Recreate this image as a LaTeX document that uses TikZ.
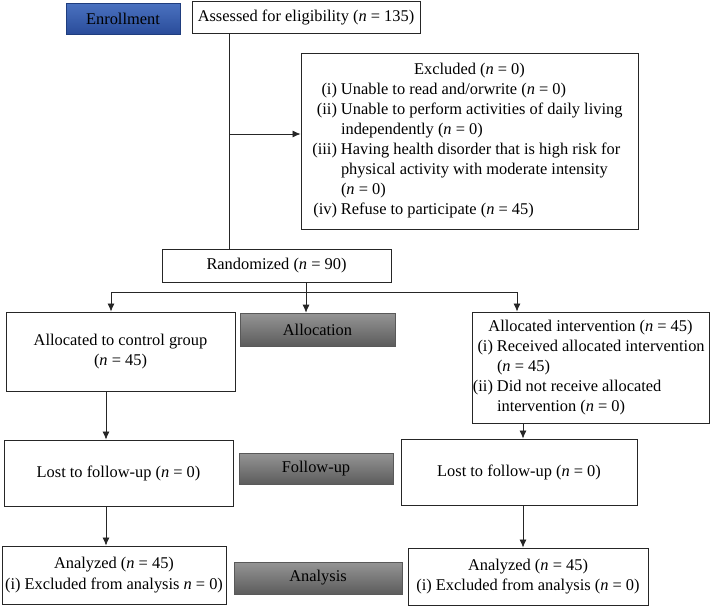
\documentclass[tikz,border=0pt]{standalone}
\usepackage{fontspec}
\setmainfont{Liberation Serif}
\usetikzlibrary{arrows.meta}
\newcommand\nn{\textit{n}}
\newcommand\litem[3]{\par\noindent\hangindent=#1\hangafter=1\makebox[#1][r]{#2\hspace{4pt}}#3}
\newcommand\boxtext[2]{\begin{minipage}{#1}\raggedright #2\par\end{minipage}}
\definecolor{enrtop}{HTML}{4A72C0}
\definecolor{enrbot}{HTML}{2A4C9A}
\definecolor{enredge}{HTML}{1F3D7E}
\definecolor{gtop}{HTML}{959595}
\definecolor{gbot}{HTML}{5C5C5C}
\begin{document}
\begin{tikzpicture}[x=1pt,y=-1pt,
  box/.style={draw=black!85, line width=0.9pt, inner sep=0pt, align=center,
    font=\fontsize{16.4}{20.5}\selectfont},
  listbox/.style={draw=black!85, line width=0.9pt, inner sep=0pt,
    font=\fontsize{16.4}{20}\selectfont},
  stage/.style={draw=gray!70!black, line width=0.6pt, inner sep=0pt, align=center,
    top color=gtop, bottom color=gbot, font=\fontsize{16.4}{20}\selectfont},
  line/.style={draw=black!85, line width=0.8pt},
  arr/.style={line, -{Latex[length=8pt,width=7pt]}}]
\useasboundingbox (0,0) rectangle (711,608);

\node[box, draw=enredge, top color=enrtop, bottom color=enrbot,
  minimum width=114pt, minimum height=31pt] (enroll) at (123,18.5) {Enrollment};
\node[box, minimum width=228pt, minimum height=32pt] (assess) at (306,17)
  {Assessed for eligibility (\nn{} = 135)};

\node[listbox, minimum width=337pt, minimum height=176pt] (excl) at (469.5,141)
  {\boxtext{317pt}{\makebox[\linewidth]{Excluded (\nn{} = 0)}
   \litem{30pt}{(i)}{Unable to read and/orwrite (\nn{} = 0)}
   \litem{30pt}{(ii)}{Unable to perform activities of daily living\newline independently (\nn{} = 0)}
   \litem{30pt}{(iii)}{Having health disorder that is high risk for\newline physical activity with moderate intensity\newline (\nn{} = 0)}
   \litem{30pt}{(iv)}{Refuse to participate (\nn{} = 45)}}};

\node[box, minimum width=229pt, minimum height=33pt] (rand) at (276.5,265.5)
  {Randomized (\nn{} = 90)};

\node[box, minimum width=229pt, minimum height=79pt] (ctrl) at (120.5,351.5)
  {Allocated to control group\\(\nn{} = 45)};
\node[stage, minimum width=155pt, minimum height=33pt] (alloc) at (317.5,329.5) {Allocation};
\node[listbox, minimum width=237pt, minimum height=111pt] (intv) at (590.5,367.5)
  {\boxtext{237pt}{\makebox[\linewidth]{Allocated intervention (\nn{} = 45)}
   \litem{25pt}{(i)}{Received allocated intervention\newline (\nn{} = 45)}
   \litem{25pt}{(ii)}{Did not receive allocated\newline intervention (\nn{} = 0)}}};

\node[box, minimum width=229pt, minimum height=66pt] (lostL) at (118.5,473)
  {Lost to follow-up (\nn{} = 0)};
\node[stage, minimum width=154pt, minimum height=31pt] (follow) at (316,468.5) {Follow-up};
\node[box, minimum width=236pt, minimum height=66pt] (lostR) at (519,472)
  {Lost to follow-up (\nn{} = 0)};

\node[box, minimum width=224pt, minimum height=58pt] (anaL) at (114,575)
  {Analyzed (\nn{} = 45)\\(i) Excluded from analysis \nn{} = 0)};
\node[stage, minimum width=168pt, minimum height=32pt] (analysis) at (318,578) {Analysis};
\node[box, minimum width=240pt, minimum height=57pt] (anaR) at (528,576.5)
  {Analyzed (\nn{} = 45)\\(i) Excluded from analysis (\nn{} = 0)};

\coordinate (j1) at (229,134);
\draw[line] (assess.south -| j1) -- (rand.north -| j1);
\draw[arr] (j1) -- (excl.west |- j1);

\coordinate (sp) at (306,292);
\coordinate (spL) at (111,292);
\coordinate (spR) at (517,292);
\draw[line] (rand.south -| sp) -- (sp);
\draw[line] (spL) -- (spR);
\draw[arr] (sp) -- (alloc.north -| sp);
\draw[arr] (spL) -- (ctrl.north -| spL);
\draw[arr] (spR) -- (intv.north -| spR);

\coordinate (cL) at (106,0);
\coordinate (cR) at (523,0);
\draw[arr] (ctrl.south -| cL) -- (lostL.north -| cL);
\draw[arr] (lostL.south -| cL) -- (anaL.north -| cL);
\draw[arr] (intv.south -| cR) -- (lostR.north -| cR);
\draw[arr] (lostR.south -| cR) -- (anaR.north -| cR);
\end{tikzpicture}
\end{document}
